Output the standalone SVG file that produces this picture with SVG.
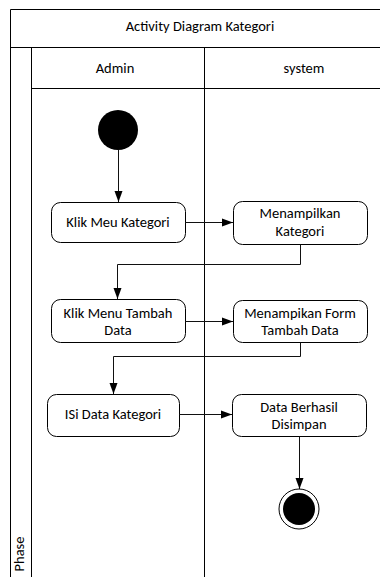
<svg xmlns="http://www.w3.org/2000/svg" width="380" height="577" viewBox="0 0 380 577">
<style>
text{font-family:Carlito,"Liberation Sans",Arial,sans-serif;font-size:14.5px;fill:#000;text-anchor:middle}
.lane{fill:none;stroke:#000;stroke-width:1}
.act{fill:#fff;stroke:#000;stroke-width:1}
.con{fill:none;stroke:#111;stroke-width:1}
</style>
<defs>
<marker id="arr" markerWidth="12" markerHeight="10" refX="11" refY="4.5" orient="auto" markerUnits="userSpaceOnUse">
<path d="M0,0.5 L11,4.5 L0,8.5 Z" fill="#000"/>
</marker>
</defs>
<rect width="380" height="577" fill="#fff"/>
<g id="pool">
<path class="lane" d="M10.5,577 V9.5 H380 M10.5,47.5 H380 M31.5,47.5 V577 M31.5,88.5 H380 M204.5,47.5 V577"/>
<text x="200" y="31">Activity Diagram Kategori</text>
<text x="115" y="73">Admin</text>
<text x="304" y="73">system</text>
<text transform="translate(24,554) rotate(-90)">Phase</text>
</g>
<g id="start"><circle cx="118" cy="130" r="20" fill="#000"/></g>
<g id="n1"><rect class="act" x="51.5" y="202.5" width="134" height="40" rx="9"/><text x="118" y="227">Klik Meu Kategori</text></g>
<g id="n2"><rect class="act" x="233.5" y="201.5" width="134" height="43" rx="9"/><text x="300" y="218">Menampilkan</text><text x="300" y="236">Kategori</text></g>
<g id="n3"><rect class="act" x="51.5" y="299.5" width="134" height="43" rx="9"/><text x="118" y="318">Klik Menu Tambah</text><text x="118" y="335">Data</text></g>
<g id="n4"><rect class="act" x="233.5" y="300.5" width="134" height="42" rx="9"/><text x="300" y="318">Menampikan Form</text><text x="300" y="335">Tambah Data</text></g>
<g id="n5"><rect class="act" x="47.5" y="394.5" width="132" height="42" rx="9"/><text x="113" y="419">ISi Data Kategori</text></g>
<g id="n6"><rect class="act" x="232.5" y="394.5" width="134" height="42" rx="9"/><text x="299" y="412">Data Berhasil</text><text x="299" y="429">Disimpan</text></g>
<g id="end"><circle cx="299" cy="509" r="20" fill="#fff" stroke="#000" stroke-width="1"/><circle cx="299" cy="509" r="16" fill="#000"/></g>
<g id="connectors">
<path class="con" d="M118.5,150 V202" marker-end="url(#arr)"/>
<path class="con" d="M185,222.5 H233" marker-end="url(#arr)"/>
<path class="con" d="M300.5,244.5 V264.5 H117.5 V299" marker-end="url(#arr)"/>
<path class="con" d="M185,321.5 H233" marker-end="url(#arr)"/>
<path class="con" d="M300.5,342.5 V356.5 H113.5 V394" marker-end="url(#arr)"/>
<path class="con" d="M179,414.5 H232" marker-end="url(#arr)"/>
<path class="con" d="M299.5,436.5 V489" marker-end="url(#arr)"/>
</g>
</svg>
